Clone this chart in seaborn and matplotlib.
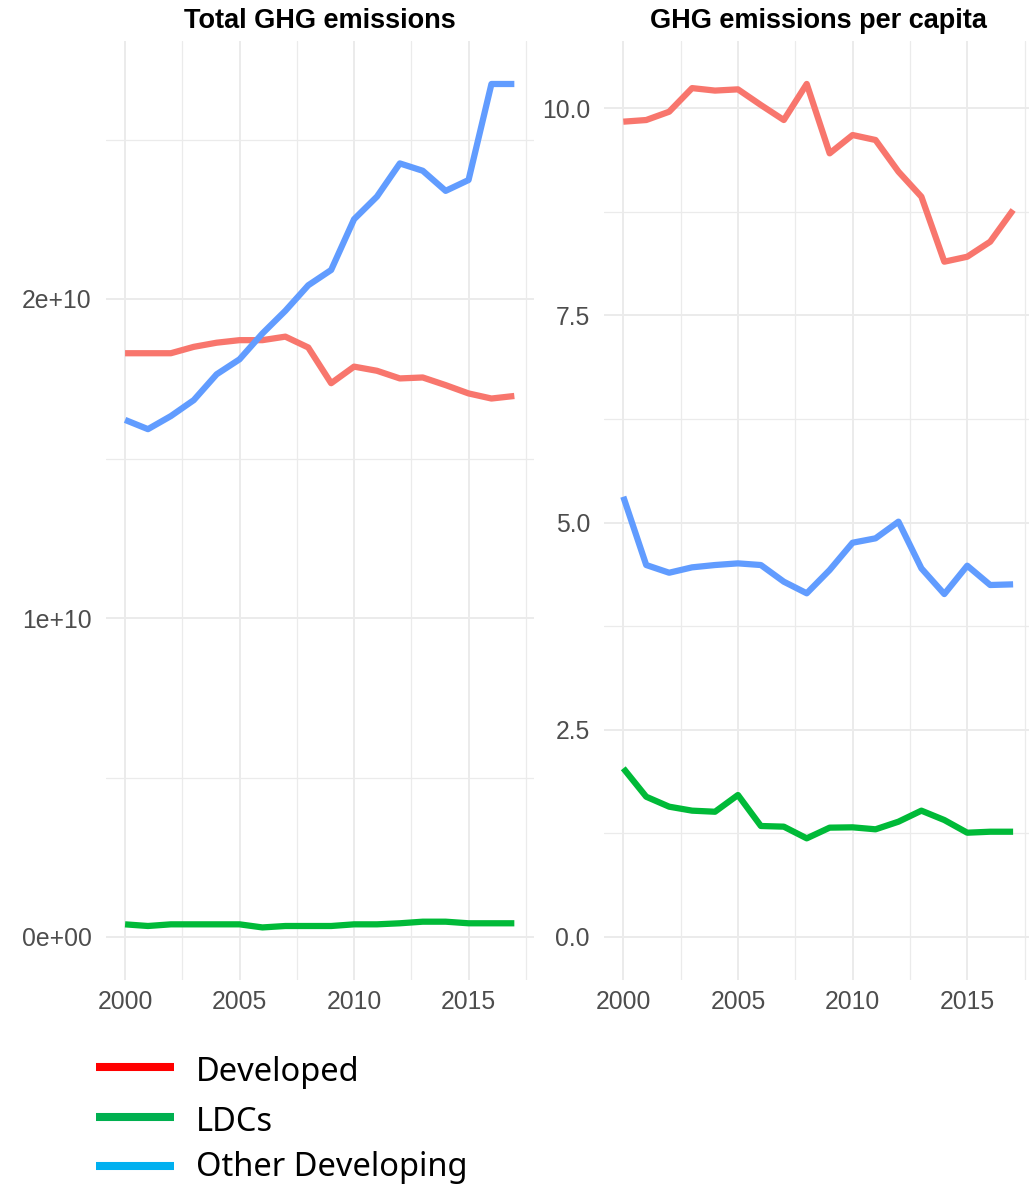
import numpy as np
import pandas as pd
import matplotlib
matplotlib.use("Agg")
import matplotlib.pyplot as plt
from matplotlib.ticker import FixedLocator, FixedFormatter
from matplotlib.lines import Line2D
import seaborn as sns

years = list(range(2000, 2018))
groups = ["Developed", "LDCs", "Other Developing"]

total_developed = [1.830, 1.830, 1.830, 1.850, 1.863, 1.871, 1.871, 1.882, 1.848, 1.736,
                   1.788, 1.775, 1.751, 1.754, 1.730, 1.704, 1.688, 1.696]
total_ldcs = [0.0397, 0.0345, 0.0397, 0.0397, 0.0397, 0.0397, 0.0300, 0.0345, 0.0345, 0.0345,
              0.0397, 0.0397, 0.0430, 0.0480, 0.0480, 0.0430, 0.0430, 0.0430]
total_other = [1.621, 1.592, 1.633, 1.683, 1.764, 1.811, 1.892, 1.963, 2.043, 2.091,
               2.250, 2.321, 2.425, 2.402, 2.339, 2.373, 2.674, 2.674]

pc_developed = [9.835, 9.855, 9.955, 10.24, 10.21, 10.225, 10.036, 9.855, 10.29, 9.453,
                9.674, 9.614, 9.232, 8.930, 8.146, 8.206, 8.387, 8.770]
pc_ldcs = [2.035, 1.692, 1.572, 1.524, 1.511, 1.713, 1.339, 1.331, 1.190, 1.319,
           1.323, 1.299, 1.391, 1.524, 1.411, 1.258, 1.270, 1.270]
pc_other = [5.311, 4.487, 4.394, 4.459, 4.487, 4.507, 4.487, 4.286, 4.146, 4.427,
            4.756, 4.809, 5.010, 4.447, 4.137, 4.479, 4.246, 4.254]

total_scale = 1e10

line_colors = ["#F8766D", "#00BA38", "#619CFF"]
legend_colors = ["#FF0000", "#00B050", "#00B0F0"]

titles = ["Total GHG emissions", "GHG emissions per capita"]
left_ticks = [0, 1e10, 2e10]
left_labels = ["0e+00", "1e+10", "2e+10"]
right_ticks = [0.0, 2.5, 5.0, 7.5, 10.0]
right_labels = ["0.0", "2.5", "5.0", "7.5", "10.0"]
x_ticks = [2000, 2005, 2010, 2015]

def long_df(series_list, scale=1.0):
    rows = []
    for g, vals in zip(groups, series_list):
        for y, v in zip(years, vals):
            rows.append({"year": y, "group": g, "value": v * scale})
    return pd.DataFrame(rows)

df_total = long_df([total_developed, total_ldcs, total_other], total_scale)
df_pc = long_df([pc_developed, pc_ldcs, pc_other])

sns.set_theme(style="white")
plt.rcParams["font.family"] = ["Liberation Sans", "DejaVu Sans"]

W, H = 1029, 1185
fig = plt.figure(figsize=(W / 100, H / 100), dpi=100)

def px_rect(x0, x1, ytop, ybot):
    return [x0 / W, 1 - ybot / H, (x1 - x0) / W, (ybot - ytop) / H]

ax1 = fig.add_axes(px_rect(105.6, 533.8, 41, 980))
ax2 = fig.add_axes(px_rect(603.8, 1032.6, 41, 980))

palette = dict(zip(groups, line_colors))
sns.lineplot(data=df_total, x="year", y="value", hue="group", palette=palette,
             linewidth=4.5, legend=False, ax=ax1, solid_capstyle="butt")
sns.lineplot(data=df_pc, x="year", y="value", hue="group", palette=palette,
             linewidth=4.5, legend=False, ax=ax2, solid_capstyle="butt")

grid_c = "#EBEBEB"
for ax, yt, yl, ylim, yminor, title in [
    (ax1, left_ticks, left_labels, (-(980 - 937) / 319 * 1e10, (937 - 41) / 319 * 1e10),
     [0.5e10, 1.5e10, 2.5e10], titles[0]),
    (ax2, right_ticks, right_labels, (-(980 - 937) / 82.9, (937 - 41) / 82.9),
     [1.25, 3.75, 6.25, 8.75], titles[1]),
]:
    ax.set_xlim(1999.15, 2017.85)
    ax.set_ylim(*ylim)
    ax.xaxis.set_major_locator(FixedLocator(x_ticks))
    ax.xaxis.set_minor_locator(FixedLocator([2002.5, 2007.5, 2012.5, 2017.5]))
    ax.yaxis.set_major_locator(FixedLocator(yt))
    ax.yaxis.set_major_formatter(FixedFormatter(yl))
    ax.yaxis.set_minor_locator(FixedLocator(yminor))
    ax.grid(True, which="major", color=grid_c, linewidth=1.4)
    ax.grid(True, which="minor", color=grid_c, linewidth=0.9)
    ax.set_axisbelow(True)
    for s in ax.spines.values():
        s.set_visible(False)
    ax.tick_params(which="both", length=0)
    ax.tick_params(axis="x", labelsize=17.8, labelcolor="#4D4D4D", pad=7)
    ax.tick_params(axis="y", labelsize=17.8, labelcolor="#4D4D4D", pad=10)
    ax.set_xlabel("")
    ax.set_ylabel("")
    ax.set_title(title, fontsize=19.5, fontweight="bold", color="black", pad=9)

# legend (added below panels)
leg_rows = [1066.7, 1116.7, 1166.0]
text_base = [1081.0, 1131.0, 1176.0]
for g, c, yy, tb in zip(groups, legend_colors, leg_rows, text_base):
    fig.add_artist(Line2D([96 / W, 174 / W], [1 - yy / H, 1 - yy / H],
                          color=c, linewidth=5.8, solid_capstyle="butt",
                          transform=fig.transFigure))
    fig.text(196 / W, 1 - tb / H, g, fontsize=23.5, color="black",
             family=["Noto Sans", "DejaVu Sans"], va="baseline", ha="left")

fig.savefig("out.png", dpi=100)
